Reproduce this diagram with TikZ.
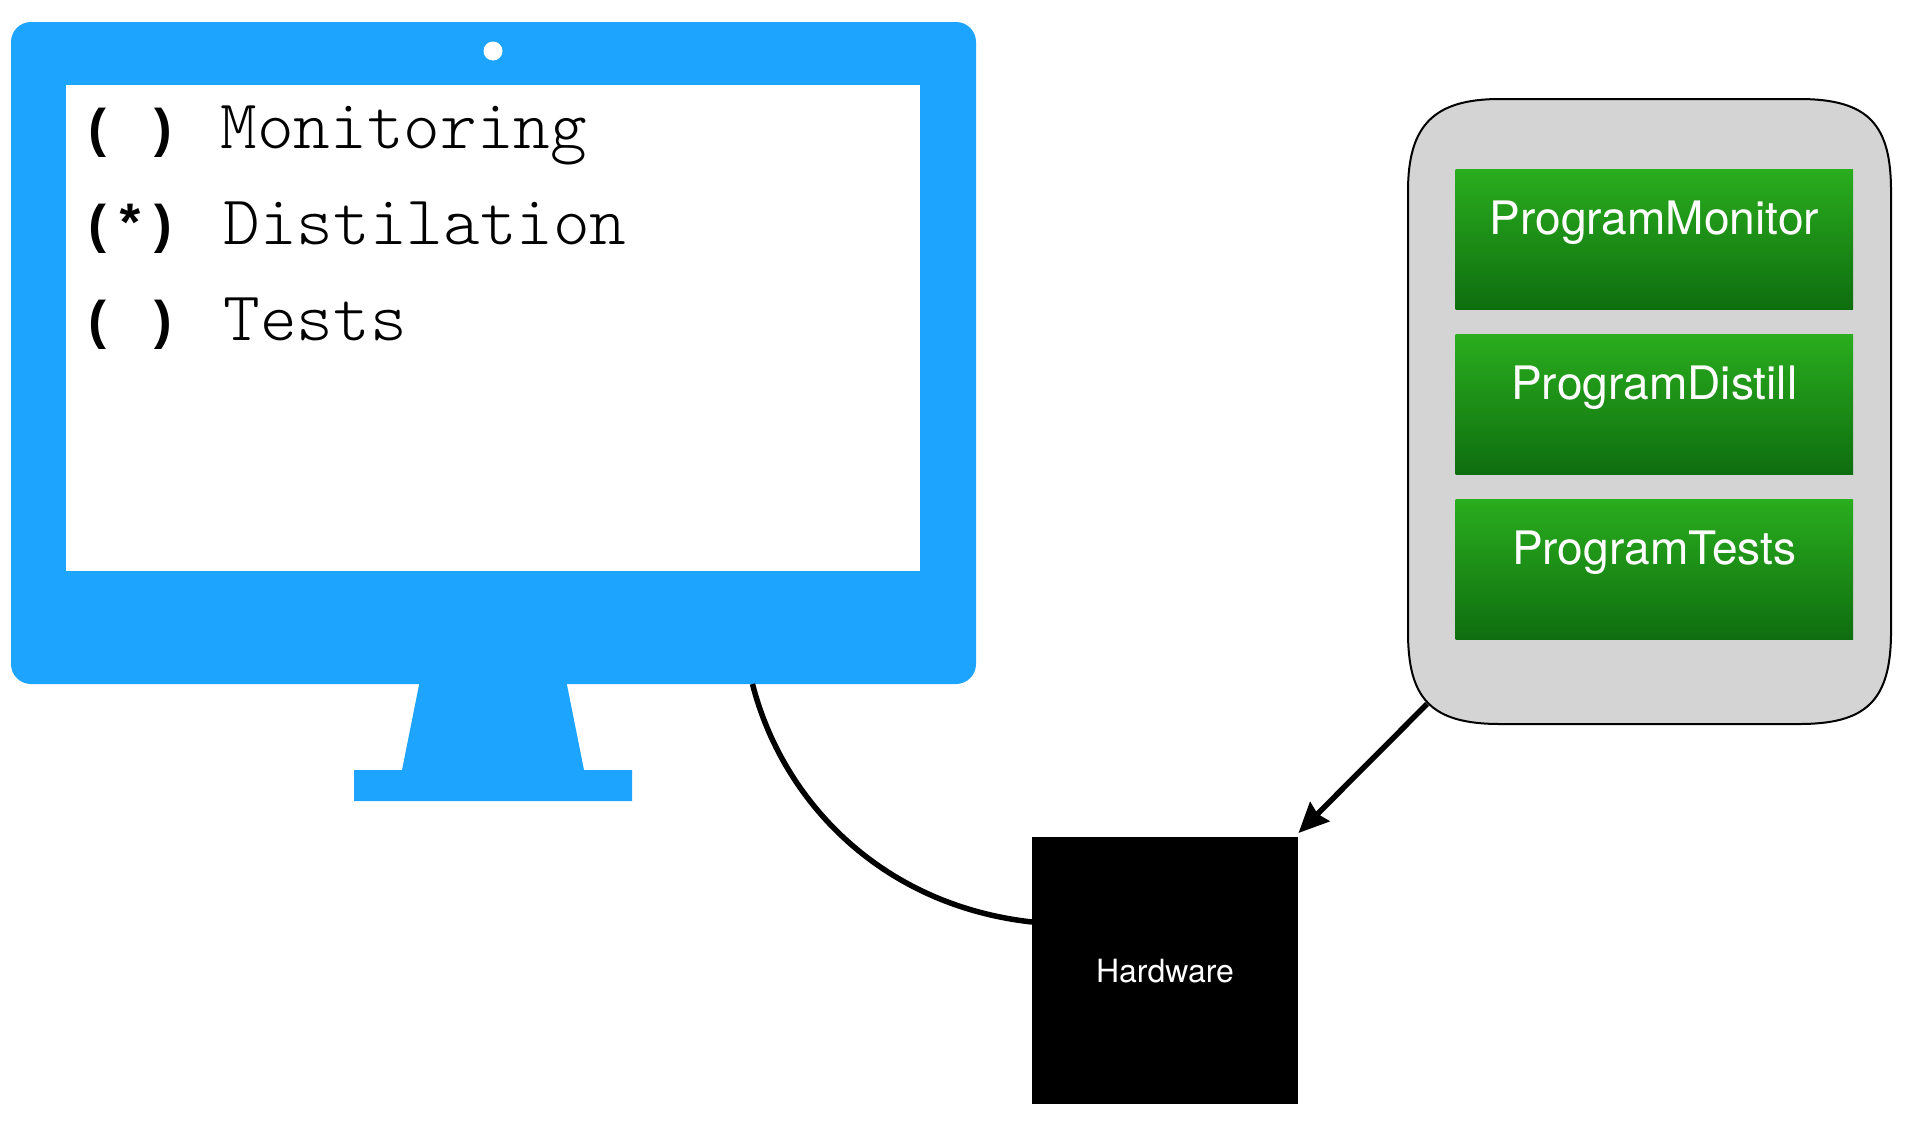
\documentclass[tikz,border=0pt]{standalone}
\usepackage{fontspec}
\setsansfont{TeX Gyre Heros}
\newfontfamily\menulight{Latin Modern Mono Light}
\newfontfamily\menubold{Liberation Mono}[BoldFont={Liberation Mono Bold}]
\usetikzlibrary{arrows.meta}
\definecolor{screenblue}{RGB}{29,164,255}
\definecolor{panelgrey}{RGB}{212,212,212}
\definecolor{greentop}{RGB}{42,173,30}
\definecolor{greenbot}{RGB}{14,110,15}
\tikzset{
  plain/.style={inner sep=0pt,outer sep=0pt},
  menutext/.style={plain,anchor=base west,font=\menulight\fontsize{69.8}{80}\selectfont},
  menumark/.style={plain,anchor=base,font=\menubold\bfseries\fontsize{53}{60}\selectfont},
  progbox/.style={plain,anchor=north west,rectangle,top color=greentop,bottom color=greenbot,
    text=white,minimum width=397.5pt,text width=397.5pt,align=center,text height=65pt,text depth=75pt,
    font=\sffamily\fontsize{46.1}{50}\selectfont},
  wire/.style={line width=5.5pt,black}
}
\begin{document}
\begin{tikzpicture}[x=1pt,y=-1pt]
\useasboundingbox (0,0) rectangle (1918,1138);
% monitor
\fill[screenblue] (420,680) -- (566,680) -- (584,770) -- (632,770) -- (632,801) -- (354,801) -- (354,770) -- (402,770) -- cycle;
\node[plain,anchor=north west,fill=screenblue,rectangle,rounded corners=20pt,minimum width=965pt,minimum height=662pt] (monitor) at (11,22) {};
\node[plain,anchor=north west,fill=white,rectangle,minimum width=854pt,minimum height=486pt] (screen) at (66,85) {};
\node[plain,fill=white,circle,minimum size=19pt] (camera) at (493,51) {};
\node[menumark] (m1) at (130.5,146.5) {( )};
\node[menumark] (m2) at (130.5,242.5) {(*)};
\node[menumark] (m3) at (130.5,338.5) {( )};
\node[menutext] (t1) at (220.5,148) {Monitoring};
\node[menutext] (t2) at (223.5,244) {Distilation};
\node[menutext] (t3) at (223.5,340) {Tests};
% panel
\node[plain,anchor=north west,rectangle,minimum width=483pt,minimum height=625pt] (panel) at (1408,99) {};
\draw[fill=panelgrey,line width=2pt]
  ([shift={(92,0)}]panel.north west) -- ([shift={(-92,0)}]panel.north east)
  .. controls ([shift={(-22,0)}]panel.north east) and ([shift={(0,26)}]panel.north east) .. ([shift={(0,92)}]panel.north east)
  -- ([shift={(0,-92)}]panel.south east)
  .. controls ([shift={(0,-22)}]panel.south east) and ([shift={(-26,0)}]panel.south east) .. ([shift={(-92,0)}]panel.south east)
  -- ([shift={(92,0)}]panel.south west)
  .. controls ([shift={(22,0)}]panel.south west) and ([shift={(0,-26)}]panel.south west) .. ([shift={(0,-92)}]panel.south west)
  -- ([shift={(0,92)}]panel.north west)
  .. controls ([shift={(0,26)}]panel.north west) and ([shift={(26,0)}]panel.north west) .. ([shift={(92,0)}]panel.north west)
  -- cycle;
\node[progbox] (pm) at (1455.5,169) {ProgramMonitor};
\node[progbox] (pd) at (1455.5,334) {ProgramDistill};
\node[progbox] (pt) at (1455.5,499) {ProgramTests};
% hardware
\node[plain,anchor=north west,rectangle,fill=black,text=white,minimum width=266pt,minimum height=267pt,
  text height=24pt,text depth=-1pt,
  font=\sffamily\fontsize{32}{36}\selectfont] (hw) at (1032,837) {Hardware};
% connectors
\draw[wire] ([shift={(741.5,0)}]monitor.south west) .. controls ([shift={(771,116)}]monitor.south west) and ([shift={(-152,-65.5)}]hw.west) .. ([shift={(0,-48.5)}]hw.west);
\draw[wire,-{Stealth[length=30pt,width=27pt,inset=3pt]}] ([shift={(19,-20)}]panel.south west) -- ([shift={(0.5,-4)}]hw.north east);
\end{tikzpicture}
\end{document}
